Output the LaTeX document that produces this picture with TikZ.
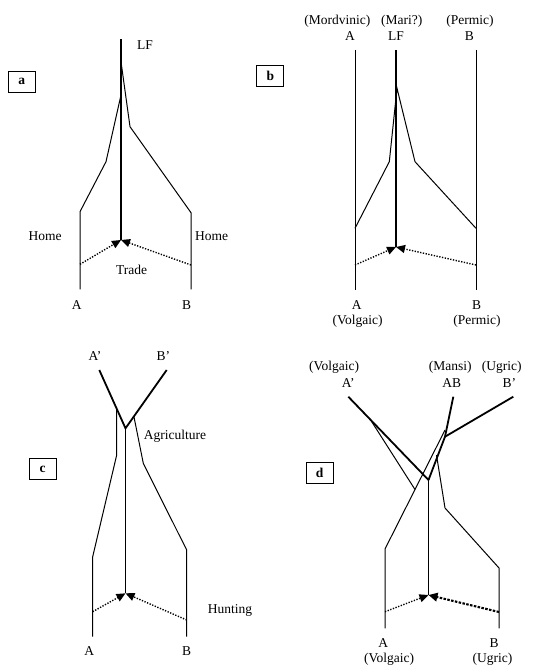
\documentclass[tikz,border=0pt]{standalone}
\usepackage{fontspec}
\setmainfont{Liberation Serif}
\usetikzlibrary{arrows.meta}
\begin{document}
\begin{tikzpicture}[x=1pt,y=-1pt,
  branch/.style={line width=1pt, line join=miter},
  trunk/.style={line width=1.8pt},
  trade/.style={line width=1.4pt, dash pattern=on 1.3pt off 1.5pt, -{Triangle[length=9pt,width=8pt]}},
  tradeheavy/.style={line width=2.1pt, dash pattern=on 2.5pt off 1.4pt, -{Triangle[length=9pt,width=8.5pt]}},
  lbl/.style={inner sep=0pt, anchor=center, text height=8.5pt, text depth=0pt, font=\fontsize{13.5}{15}\selectfont},
  panelbox/.style={draw, line width=0.9pt, inner sep=0pt, minimum width=27pt, minimum height=21pt, font=\bfseries\fontsize{13.5}{15}\selectfont}]
\useasboundingbox (0,0) rectangle (537,668);

%% ---------------- panel a ----------------
\node[panelbox] (boxa) at (21.7,81.7) {a};
\coordinate (aT) at (121,39.3);
\coordinate (aJ) at (121,240);
\coordinate (aL0) at (80,289.3);
\coordinate (aL1) at (80,211.7);
\coordinate (aL2) at (106,161.7);
\coordinate (aL3) at (121,95);
\coordinate (aR0) at (191,289.3);
\coordinate (aR1) at (191,212.7);
\coordinate (aR2) at (130,126.7);
\coordinate (aR3) at (121,61.7);
\coordinate (aTL) at (80,264.3);
\coordinate (aTR) at (191,265);
\draw[branch] (aL0) -- (aL1) -- (aL2) -- (aL3);
\draw[branch] (aR0) -- (aR1) -- (aR2) -- (aR3);
\draw[trunk] (aT) -- (aJ);
\draw[trade] (aTL) -- (aJ);
\draw[trade] (aTR) -- (aJ);
\node[lbl] (aLF) at (145,45) {LF};
\node[lbl] (aHomeL) at (45,236.7) {Home};
\node[lbl] (aHomeR) at (211.7,236.7) {Home};
\node[lbl] (aTrade) at (131.7,270) {Trade};
\node[lbl] (aA) at (76.7,305) {A};
\node[lbl] (aB) at (186.7,305) {B};

%% ---------------- panel b ----------------
\node[panelbox] (boxb) at (270.3,76) {b};
\coordinate (bT) at (396,50);
\coordinate (bJ) at (396,247);
\coordinate (bAT) at (355,50);
\coordinate (bAB) at (355,290);
\coordinate (bBT) at (476,50);
\coordinate (bBB) at (476,290);
\coordinate (bL0) at (355,228.3);
\coordinate (bL1) at (389.3,161.7);
\coordinate (bP) at (397,88.3);
\coordinate (bR1) at (415,161.7);
\coordinate (bR0) at (476,228.3);
\coordinate (bTL) at (355,265);
\coordinate (bTR) at (476,265);
\draw[branch] (bAT) -- (bAB);
\draw[branch] (bBT) -- (bBB);
\draw[branch] (bL0) -- (bL1) -- (bP) -- (bR1) -- (bR0);
\draw[trunk] (bT) -- (bJ);
\draw[trade] (bTL) -- (bJ);
\draw[trade] (bTR) -- (bJ);
\node[lbl] (bMord) at (337.3,20) {(Mordvinic)};
\node[lbl] (bAtop) at (350,36) {A};
\node[lbl] (bMari) at (401.7,20) {(Mari?)};
\node[lbl] (bLF) at (396,36) {LF};
\node[lbl] (bPermT) at (470,20) {(Permic)};
\node[lbl] (bBtop) at (469.3,36) {B};
\node[lbl] (bAbot) at (356.7,305) {A};
\node[lbl] (bVolg) at (357.7,320) {(Volgaic)};
\node[lbl] (bBbot) at (476.7,305) {B};
\node[lbl] (bPermB) at (477,320) {(Permic)};

%% ---------------- panel c ----------------
\node[panelbox] (boxc) at (42.5,469) {c};
\coordinate (cA) at (99.3,370);
\coordinate (cB) at (166.7,370);
\coordinate (cJ) at (125.5,428.3);
\coordinate (cE) at (125.5,593.3);
\coordinate (cL0) at (92.7,636.7);
\coordinate (cL1) at (92.7,556.7);
\coordinate (cL2) at (116.7,455);
\coordinate (cL3) at (116.7,410);
\coordinate (cR0) at (186.7,636.7);
\coordinate (cR1) at (186.7,550);
\coordinate (cR2) at (143.3,463.3);
\coordinate (cR3) at (133.8,416);
\coordinate (cTL) at (92.7,611.7);
\coordinate (cTR) at (186.7,620);
\draw[branch] (cL0) -- (cL1) -- (cL2) -- (cL3);
\draw[branch] (cR0) -- (cR1) -- (cR2) -- (cR3);
\draw[trunk] (cA) -- (cJ) -- (cB);
\draw[trunk] (cJ) -- (cE);
\draw[trade] (cTL) -- (cE);
\draw[trade] (cTR) -- (cE);
\node[lbl] (cAp) at (95,356.7) {A'};
\node[lbl] (cBp) at (163.3,356.7) {B'};
\node[lbl] (cAgri) at (175,435) {Agriculture};
\node[lbl] (cHunt) at (230,609.3) {Hunting};
\node[lbl] (cAbot) at (89.3,651.7) {A};
\node[lbl] (cBbot) at (186.7,651.7) {B};

%% ---------------- panel d ----------------
\node[panelbox] (boxd) at (319.7,472.5) {d};
\coordinate (dA) at (348.3,396.7);
\coordinate (dAB) at (453.3,396.7);
\coordinate (dB) at (513.3,396.7);
\coordinate (dK) at (445,436.7);
\coordinate (dJ) at (428.5,480);
\coordinate (dE) at (428.5,595);
\coordinate (dL0) at (385,628.3);
\coordinate (dL1) at (385,549);
\coordinate (dL2) at (445,430);
\coordinate (dV) at (415,489.5);
\coordinate (dW) at (371.7,421.7);
\coordinate (dR0) at (499,628.3);
\coordinate (dR1) at (499,568);
\coordinate (dR2) at (445,508);
\coordinate (dR3) at (436.5,455);
\coordinate (dTL) at (385,611.7);
\coordinate (dTR) at (499,612);
\draw[branch] (dL0) -- (dL1) -- (dL2);
\draw[branch] (dW) -- (dV);
\draw[branch] (dR0) -- (dR1) -- (dR2) -- (dR3);
\draw[trunk] (dA) -- (dJ);
\draw[trunk] (dAB) -- (dK) -- (dJ);
\draw[trunk] (dB) -- (dK);
\draw[trunk] (dJ) -- (dE);
\draw[trade] (dTL) -- (dE);
\draw[tradeheavy] (dTR) -- (dE);
\node[lbl] (dVolgT) at (334.2,366.7) {(Volgaic)};
\node[lbl] (dAp) at (348.3,383.3) {A'};
\node[lbl] (dMansi) at (450.3,366.7) {(Mansi)};
\node[lbl] (dABl) at (451.7,383.3) {AB};
\node[lbl] (dUgrT) at (501.7,366.7) {(Ugric)};
\node[lbl] (dBp) at (509.3,383.3) {B'};
\node[lbl] (dAbot) at (383.3,643.3) {A};
\node[lbl] (dVolgB) at (389.2,658.3) {(Volgaic)};
\node[lbl] (dBbot) at (494,643.3) {B};
\node[lbl] (dUgrB) at (492.5,658.3) {(Ugric)};
\end{tikzpicture}
\end{document}
